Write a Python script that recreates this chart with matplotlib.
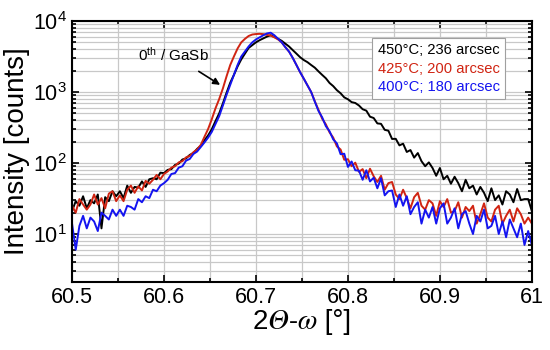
import numpy as np
import matplotlib
matplotlib.use("Agg")
import matplotlib.pyplot as plt
from matplotlib.ticker import MultipleLocator, LogLocator, NullFormatter

plt.rcParams['font.family'] = ['Liberation Sans', 'STIXGeneral', 'DejaVu Sans']
plt.rcParams['mathtext.fontset'] = 'custom'
plt.rcParams['mathtext.rm'] = 'Liberation Sans'
plt.rcParams['mathtext.it'] = 'Liberation Sans:italic'

# scan axis, 2theta-omega in degrees (step 0.004)
two_theta = np.round(60.5 + 0.004 * np.arange(126), 3)

# 450 C sample
i_450 = [21, 29, 25, 34, 23, 30, 27, 36, 12, 33, 29, 40, 34, 40, 32, 48, 38, 46, 45, 55,
         46, 59, 61, 59, 73, 72, 80, 82, 94, 98, 112, 116, 130, 138, 158, 175,
         209, 245, 300, 390, 500, 690, 975, 1350, 1740, 2290, 2880, 3470, 4170, 4570,
         5010, 5370, 5690, 6030, 6310, 5960, 5620, 5250, 4790, 4370, 3890, 3470, 3090,
         2820, 2630, 2400, 2200, 1950, 1740, 1560, 1340, 1210, 1060, 960, 840, 790, 720,
         700, 645, 572, 546, 449, 430, 361, 356, 293, 285, 218, 219, 177, 187, 143, 152,
         119, 138, 106, 90, 102, 85, 66, 85, 59, 66, 51, 64, 52, 40, 58, 44, 48, 36, 46,
         38, 29, 44, 30, 35, 26, 40, 36, 28, 43, 30, 31, 31, 21]

# 425 C sample
i_425 = [25, 20, 31, 26, 22, 26, 36, 26, 32, 23, 37, 40, 29, 35, 29, 42, 48, 38, 47, 41,
         56, 51, 58, 68, 59, 70, 76, 86, 90, 102, 106, 120, 126, 142, 155, 180,
         234, 302, 415, 590, 795, 1120, 1660, 2400, 3160, 4100, 5000, 5600, 6150, 6450,
         6550, 6600, 6530, 6380, 6230, 5890, 5500, 5000, 4270, 3700, 3020, 2400, 1900,
         1540, 1240, 1000, 740, 560, 420, 350, 270, 228, 171, 155, 111, 113, 90, 101, 75,
         82, 61, 83, 65, 54, 66, 42, 52, 54, 36, 31, 42, 32, 23, 33, 38, 25, 22, 30, 27,
         18, 29, 24, 31, 20, 21, 28, 17, 24, 21, 25, 14, 19, 27, 17, 15, 22, 25, 14, 18,
         22, 15, 23, 19, 14, 17, 14]

# 400 C sample
i_400 = [14, 6, 13, 18, 12, 17, 15, 11, 20, 18, 16, 22, 18, 22, 18, 25, 24, 22, 31, 28,
         34, 32, 42, 40, 48, 52, 58, 70, 72, 86, 90, 108, 114, 134, 145, 168,
         195, 228, 275, 355, 457, 645, 912, 1260, 1740, 2400, 3160, 3720, 4370, 5000,
         5500, 5890, 6300, 6680, 6840, 6300, 5620, 5000, 4270, 3700, 3020, 2400, 1900,
         1540, 1240, 1000, 730, 540, 440, 330, 280, 215, 189, 133, 135, 88, 105, 79, 78,
         58, 79, 55, 62, 44, 61, 35, 40, 41, 24, 36, 25, 34, 19, 24, 28, 14, 22, 17, 24,
         14, 23, 27, 14, 17, 23, 12, 19, 21, 14, 10, 18, 15, 22, 12, 13, 18, 10, 15, 9,
         16, 12, 9, 14, 7, 11, 7]

labels = ["450°C; 236 arcsec", "425°C; 200 arcsec", "400°C; 180 arcsec"]
colors = ["black", "#d02412", "#1414f0"]

fig = plt.figure(figsize=(5.5, 3.5), dpi=100)
ax = fig.add_axes([0.131, 0.194, 0.836, 0.746])

for vals, lab, col in zip([i_450, i_425, i_400], labels, colors):
    ax.plot(two_theta, vals, color=col, lw=1.4, label=lab)

ax.set_yscale('log')
ax.set_xlim(60.5, 61)
ax.set_ylim(2.1, 1e4)

ax.xaxis.set_major_locator(MultipleLocator(0.1))
ax.xaxis.set_minor_locator(MultipleLocator(0.05))
ax.yaxis.set_major_locator(LogLocator(base=10, numticks=10))
ax.yaxis.set_minor_locator(LogLocator(base=10, subs=np.arange(2, 10), numticks=20))
ax.yaxis.set_minor_formatter(NullFormatter())
ax.xaxis.set_major_formatter(plt.FuncFormatter(lambda v, p: f"{v:g}"))

ax.grid(True, which='both', color='#c8c8c8', lw=0.9)
ax.set_axisbelow(True)
ax.tick_params(which='both', direction='in', top=True, right=True, width=1.2)
ax.tick_params(which='major', length=5, labelsize=15.5)
ax.tick_params(which='minor', length=3)
for s in ax.spines.values():
    s.set_linewidth(1.5)

ax.set_ylabel("Intensity [counts]", fontsize=20, labelpad=2)
ax.set_xlabel("2\U0001D6E9-\U0001D714 [°]", fontsize=20, labelpad=1)

leg = ax.legend(loc='upper right', bbox_to_anchor=(0.941, 0.935), borderaxespad=0,
                handlelength=0, handletextpad=0, fontsize=10.6, fancybox=False,
                framealpha=1, edgecolor='#a0a0a0', borderpad=0.35, labelspacing=0.3)
for txt, col in zip(leg.get_texts(), colors):
    txt.set_color(col)
for h in leg.legend_handles:
    h.set_visible(False)
leg.get_frame().set_linewidth(0.8)

ax.annotate("0$^{\\mathrm{th}}$ / GaSb", xy=(60.661, 1260), xytext=(60.61, 3300),
            fontsize=11, ha='center', va='center',
            arrowprops=dict(arrowstyle='-|>', color='black', lw=1.2,
                            shrinkA=6, shrinkB=0, mutation_scale=10))

fig.savefig("out.png", dpi=100)
